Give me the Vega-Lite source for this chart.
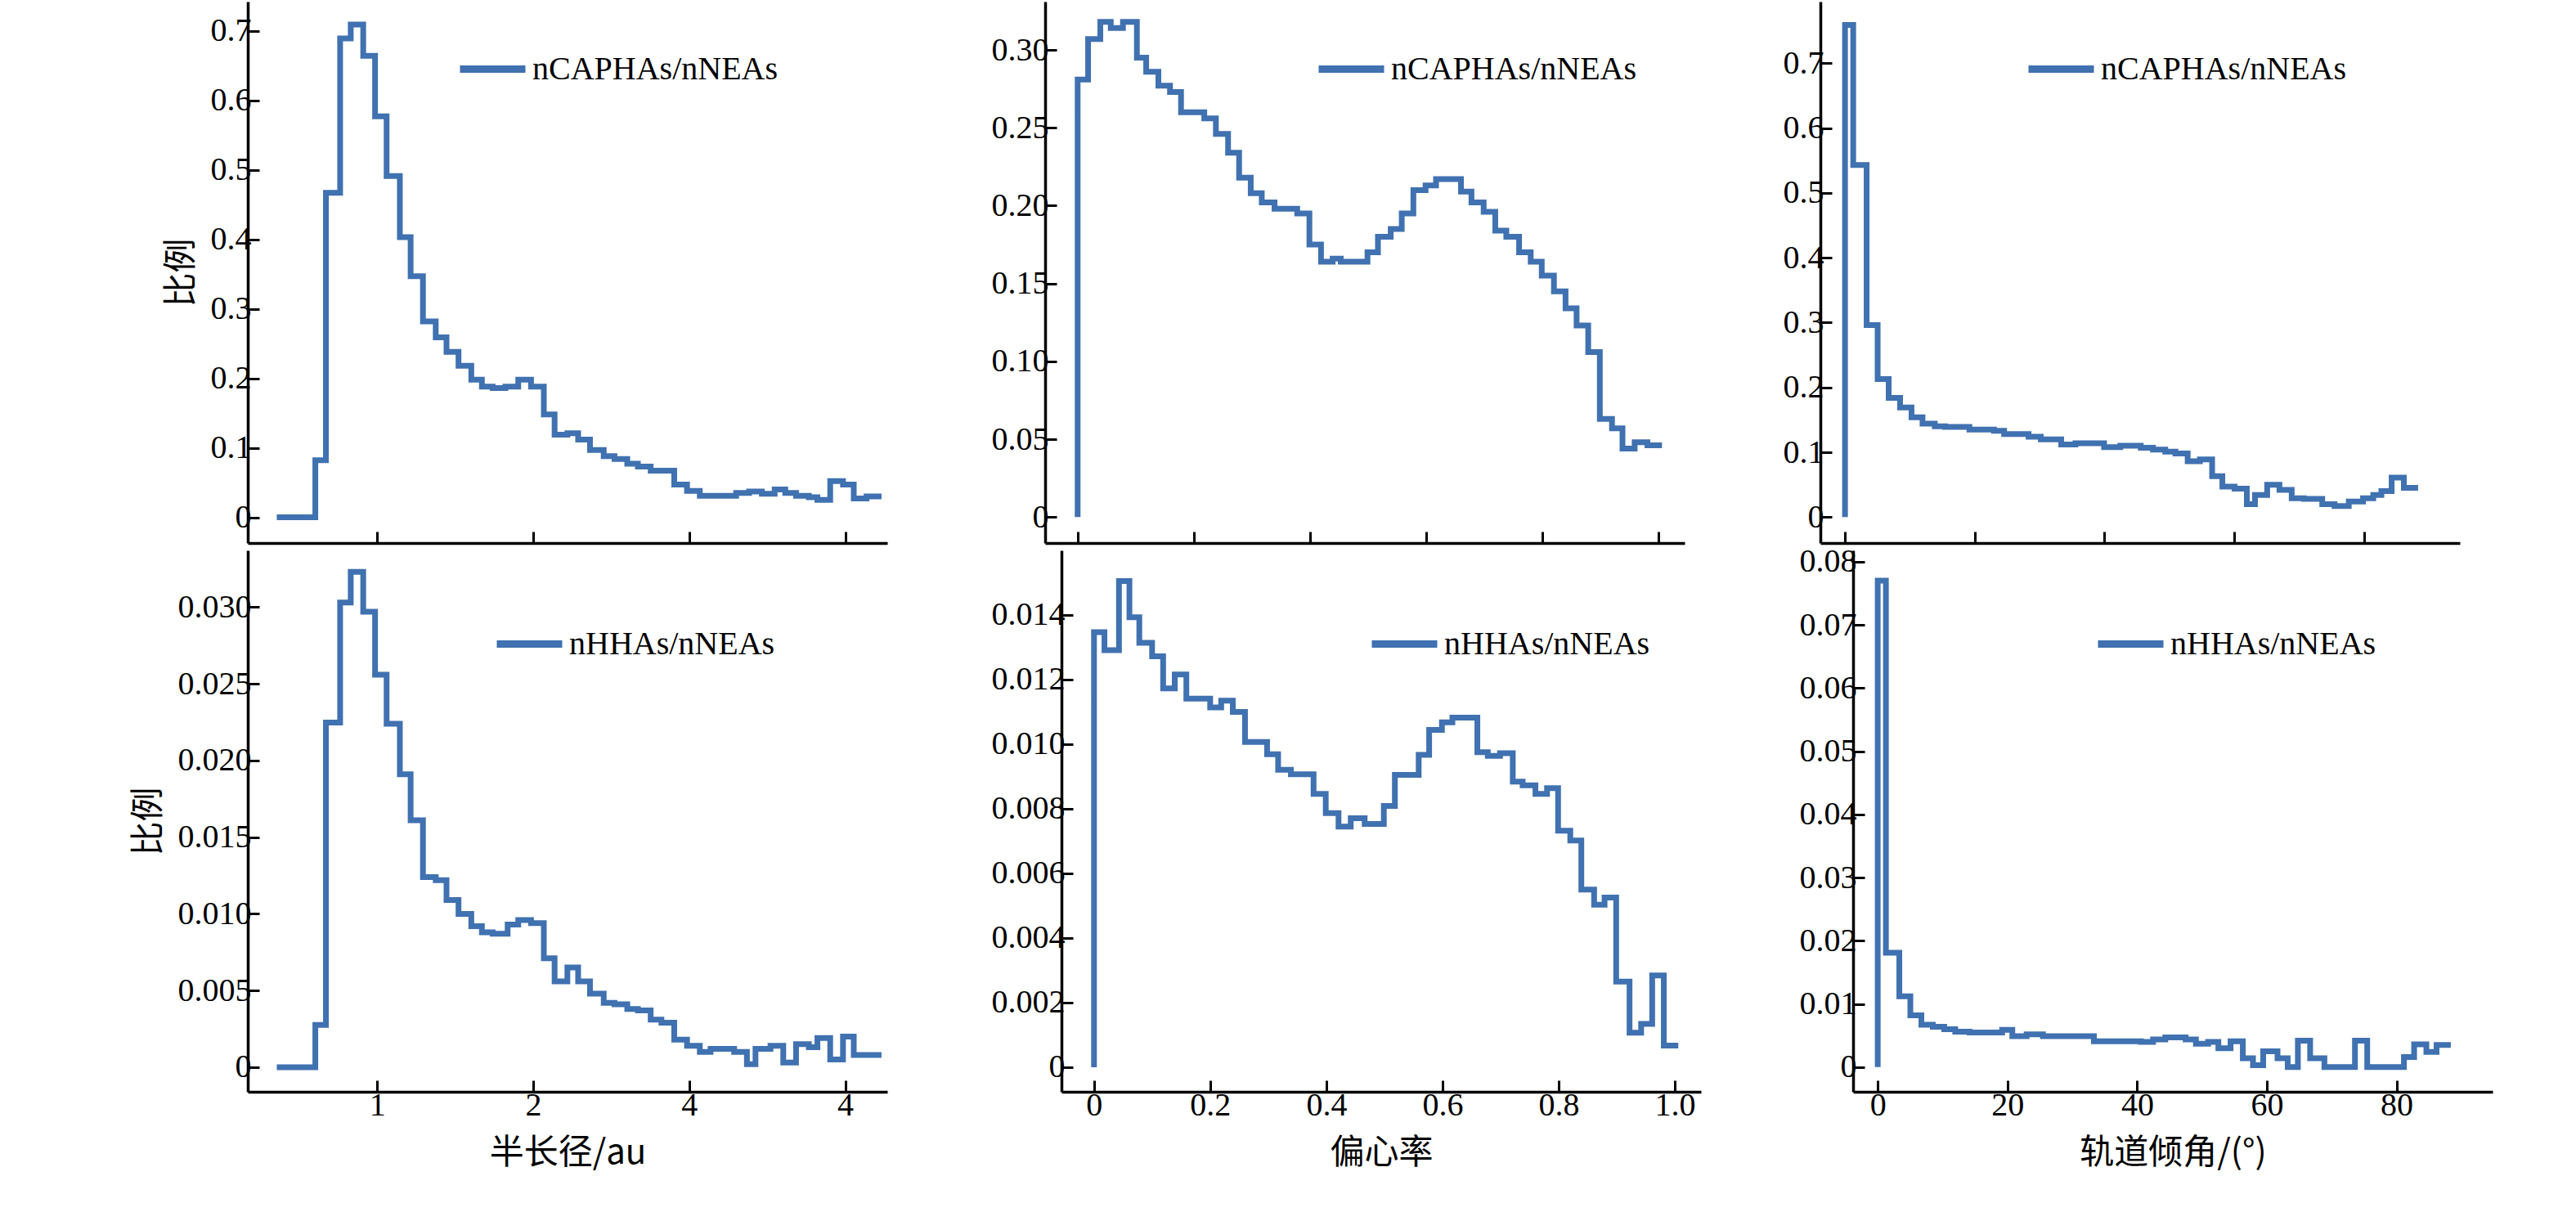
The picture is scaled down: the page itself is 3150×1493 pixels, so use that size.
{
  "$schema": "https://vega.github.io/schema/vega-lite/v6.json",
  "background": "white",
  "padding": {"left": 160, "top": 2, "right": 10, "bottom": 10},
  "config": {
    "font": "Liberation Serif",
    "view": {"stroke": null},
    "axis": {"grid": false, "domainColor": "black", "domainWidth": 3.5, "tickColor": "black", "tickWidth": 3, "tickSize": -14,
      "labelFont": "Liberation Serif", "labelFontSize": 40, "labelColor": "black", "labelPadding": 10,
      "titleFont": "Noto Sans CJK SC", "titleFontSize": 42, "titleFontWeight": "normal", "titleColor": "black"},
    "axisX": {"labelFont": "Liberation Serif", "titlePadding": 18},
    "axisY": {"labelFont": "Liberation Serif"},
    "legend": {"orient": "none", "title": null, "symbolType": "stroke", "symbolStrokeWidth": 9, "symbolSize": 6400,
      "labelFont": "Liberation Serif", "labelFontSize": 40, "labelColor": "black", "labelLimit": 600}
  },
  "datasets": {
    "a1": [
      {"x":0.356,"y":0},{"x":0.603,"y":0.082},{"x":0.671,"y":0.467},{"x":0.762,"y":0.689},{"x":0.830,"y":0.709},{"x":0.910,"y":0.664},{"x":0.986,"y":0.577},{"x":1.060,"y":0.491},{"x":1.145,"y":0.403},{"x":1.214,"y":0.347},{"x":1.293,"y":0.282},{"x":1.375,"y":0.259},{"x":1.444,"y":0.238},{"x":1.521,"y":0.218},{"x":1.603,"y":0.198},{"x":1.671,"y":0.188},{"x":1.740,"y":0.186},{"x":1.822,"y":0.188},{"x":1.904,"y":0.198},{"x":1.986,"y":0.188},{"x":2.068,"y":0.148},{"x":2.137,"y":0.119},{"x":2.219,"y":0.121},{"x":2.288,"y":0.112},{"x":2.364,"y":0.097},{"x":2.452,"y":0.088},{"x":2.521,"y":0.084},{"x":2.603,"y":0.077},{"x":2.671,"y":0.073},{"x":2.753,"y":0.067},{"x":2.822,"y":0.067},{"x":2.904,"y":0.047},{"x":2.986,"y":0.038},{"x":3.068,"y":0.031},{"x":3.301,"y":0.035},{"x":3.384,"y":0.037},{"x":3.466,"y":0.034},{"x":3.548,"y":0.040},{"x":3.616,"y":0.035},{"x":3.685,"y":0.031},{"x":3.767,"y":0.029},{"x":3.822,"y":0.025},{"x":3.904,"y":0.052},{"x":3.986,"y":0.047},{"x":4.055,"y":0.027},{"x":4.137,"y":0.030},{"x":4.233,"y":0.030}
    ],
    "e1": [
      {"x":0,"y":0},{"x":0,"y":0.281},{"x":0.018,"y":0.307},{"x":0.039,"y":0.318},{"x":0.057,"y":0.314},{"x":0.078,"y":0.318},{"x":0.102,"y":0.295},{"x":0.118,"y":0.286},{"x":0.139,"y":0.277},{"x":0.159,"y":0.273},{"x":0.178,"y":0.260},{"x":0.218,"y":0.256},{"x":0.238,"y":0.246},{"x":0.259,"y":0.234},{"x":0.278,"y":0.218},{"x":0.298,"y":0.208},{"x":0.317,"y":0.202},{"x":0.339,"y":0.198},{"x":0.378,"y":0.195},{"x":0.399,"y":0.175},{"x":0.419,"y":0.164},{"x":0.439,"y":0.166},{"x":0.453,"y":0.164},{"x":0.499,"y":0.170},{"x":0.517,"y":0.180},{"x":0.539,"y":0.185},{"x":0.558,"y":0.195},{"x":0.578,"y":0.210},{"x":0.599,"y":0.213},{"x":0.617,"y":0.217},{"x":0.660,"y":0.209},{"x":0.678,"y":0.202},{"x":0.699,"y":0.196},{"x":0.719,"y":0.184},{"x":0.738,"y":0.180},{"x":0.760,"y":0.170},{"x":0.780,"y":0.164},{"x":0.799,"y":0.155},{"x":0.820,"y":0.145},{"x":0.840,"y":0.134},{"x":0.859,"y":0.123},{"x":0.879,"y":0.106},{"x":0.899,"y":0.063},{"x":0.920,"y":0.057},{"x":0.938,"y":0.044},{"x":0.959,"y":0.048},{"x":0.981,"y":0.046},{"x":1.006,"y":0.046}
    ],
    "i1": [
      {"x":0,"y":0},{"x":0,"y":0.759},{"x":1.26,"y":0.543},{"x":3.33,"y":0.296},{"x":5.03,"y":0.213},{"x":6.73,"y":0.184},{"x":8.49,"y":0.169},{"x":10.25,"y":0.154},{"x":11.95,"y":0.144},{"x":13.84,"y":0.140},{"x":15.41,"y":0.139},{"x":19.18,"y":0.135},{"x":22.96,"y":0.133},{"x":24.53,"y":0.128},{"x":28.30,"y":0.124},{"x":30.19,"y":0.120},{"x":33.33,"y":0.112},{"x":35.53,"y":0.114},{"x":39.94,"y":0.108},{"x":42.45,"y":0.110},{"x":45.60,"y":0.107},{"x":47.48,"y":0.104},{"x":49.37,"y":0.101},{"x":50.94,"y":0.098},{"x":52.83,"y":0.086},{"x":54.72,"y":0.089},{"x":56.60,"y":0.063},{"x":58.18,"y":0.047},{"x":60.06,"y":0.044},{"x":61.95,"y":0.020},{"x":63.21,"y":0.034},{"x":65.09,"y":0.050},{"x":66.98,"y":0.042},{"x":68.87,"y":0.029},{"x":70.75,"y":0.028},{"x":73.58,"y":0.020},{"x":75.47,"y":0.017},{"x":77.67,"y":0.024},{"x":79.87,"y":0.029},{"x":81.45,"y":0.034},{"x":82.70,"y":0.040},{"x":84.28,"y":0.061},{"x":86.16,"y":0.045},{"x":88.36,"y":0.045}
    ],
    "a2": [
      {"x":0.356,"y":0},{"x":0.603,"y":0.00276},{"x":0.671,"y":0.02247},{"x":0.762,"y":0.0303},{"x":0.830,"y":0.0323},{"x":0.910,"y":0.0297},{"x":0.986,"y":0.0256},{"x":1.060,"y":0.0224},{"x":1.145,"y":0.0191},{"x":1.214,"y":0.0161},{"x":1.293,"y":0.0124},{"x":1.375,"y":0.0122},{"x":1.444,"y":0.0109},{"x":1.521,"y":0.0100},{"x":1.603,"y":0.0092},{"x":1.671,"y":0.0088},{"x":1.740,"y":0.0087},{"x":1.836,"y":0.0093},{"x":1.904,"y":0.0096},{"x":1.986,"y":0.0094},{"x":2.068,"y":0.0071},{"x":2.137,"y":0.0056},{"x":2.219,"y":0.0065},{"x":2.288,"y":0.0056},{"x":2.364,"y":0.0048},{"x":2.452,"y":0.0042},{"x":2.521,"y":0.0041},{"x":2.603,"y":0.0038},{"x":2.671,"y":0.0037},{"x":2.753,"y":0.0031},{"x":2.822,"y":0.0029},{"x":2.904,"y":0.0018},{"x":2.986,"y":0.0014},{"x":3.068,"y":0.0010},{"x":3.137,"y":0.0012},{"x":3.288,"y":0.0010},{"x":3.370,"y":0.0002},{"x":3.425,"y":0.0012},{"x":3.521,"y":0.0014},{"x":3.603,"y":0.0003},{"x":3.685,"y":0.0015},{"x":3.767,"y":0.0013},{"x":3.822,"y":0.0019},{"x":3.904,"y":0.0005},{"x":3.986,"y":0.0020},{"x":4.055,"y":0.0008},{"x":4.233,"y":0.0008}
    ],
    "e2": [
      {"x":0,"y":0},{"x":0,"y":0.01347},{"x":0.018,"y":0.01291},{"x":0.043,"y":0.01505},{"x":0.061,"y":0.01393},{"x":0.078,"y":0.01314},{"x":0.100,"y":0.01272},{"x":0.119,"y":0.01173},{"x":0.139,"y":0.01216},{"x":0.159,"y":0.01141},{"x":0.200,"y":0.01114},{"x":0.219,"y":0.01135},{"x":0.239,"y":0.01100},{"x":0.260,"y":0.01007},{"x":0.298,"y":0.00969},{"x":0.317,"y":0.00921},{"x":0.339,"y":0.00907},{"x":0.378,"y":0.00846},{"x":0.399,"y":0.00787},{"x":0.421,"y":0.00745},{"x":0.442,"y":0.00771},{"x":0.466,"y":0.00753},{"x":0.499,"y":0.00809},{"x":0.518,"y":0.00905},{"x":0.559,"y":0.00967},{"x":0.577,"y":0.01044},{"x":0.599,"y":0.01068},{"x":0.617,"y":0.01082},{"x":0.660,"y":0.00975},{"x":0.678,"y":0.00964},{"x":0.699,"y":0.00972},{"x":0.721,"y":0.00884},{"x":0.738,"y":0.00873},{"x":0.760,"y":0.00846},{"x":0.780,"y":0.00864},{"x":0.799,"y":0.00732},{"x":0.820,"y":0.00702},{"x":0.839,"y":0.00550},{"x":0.861,"y":0.00503},{"x":0.879,"y":0.00525},{"x":0.899,"y":0.00265},{"x":0.922,"y":0.00107},{"x":0.942,"y":0.00134},{"x":0.961,"y":0.00284},{"x":0.981,"y":0.00067},{"x":1.006,"y":0.00067}
    ],
    "i2": [
      {"x":0,"y":0},{"x":0,"y":0.077},{"x":1.26,"y":0.0181},{"x":3.33,"y":0.0112},{"x":5.03,"y":0.0082},{"x":6.73,"y":0.0067},{"x":8.49,"y":0.0064},{"x":10.25,"y":0.0060},{"x":11.95,"y":0.0056},{"x":14.15,"y":0.0055},{"x":19.18,"y":0.0059},{"x":20.75,"y":0.0049},{"x":22.96,"y":0.0052},{"x":25.47,"y":0.0049},{"x":33.33,"y":0.0041},{"x":40.57,"y":0.0040},{"x":42.45,"y":0.0044},{"x":44.34,"y":0.0047},{"x":47.48,"y":0.0044},{"x":49.06,"y":0.0037},{"x":50.94,"y":0.0040},{"x":52.52,"y":0.0030},{"x":54.40,"y":0.0041},{"x":56.29,"y":0.0014},{"x":57.86,"y":0.0003},{"x":59.43,"y":0.0025},{"x":61.64,"y":0.0014},{"x":63.21,"y":0},{"x":64.78,"y":0.0042},{"x":66.67,"y":0.0014},{"x":68.87,"y":0},{"x":73.58,"y":0.0042},{"x":75.47,"y":0},{"x":81.13,"y":0.0016},{"x":82.70,"y":0.0036},{"x":84.59,"y":0.0024},{"x":86.16,"y":0.0035},{"x":88.36,"y":0.0035}
    ]
  },
  "resolve": {"scale": {"color": "independent"}, "legend": {"color": "independent"}},
  "spacing": 0,
  "vconcat": [
    {
      "resolve": {"scale": {"color": "independent"}, "legend": {"color": "independent"}},
      "spacing": 120,
      "hconcat": [
        {
          "width": 782, "height": 662, "data": {"name": "a1"},
          "mark": {"type": "line", "interpolate": "step-after", "strokeWidth": 7},
          "encoding": {
            "x": {"field": "x", "type": "quantitative", "scale": {"domain": [0.17, 4.27], "nice": false, "zero": false}, "axis": {"values": [1, 2, 3, 4], "labels": false, "title": null}},
            "y": {"field": "y", "type": "quantitative", "scale": {"domain": [-0.037, 0.742], "nice": false}, "axis": {"values": [0, 0.1, 0.2, 0.3, 0.4, 0.5, 0.6, 0.7], "labelExpr": "datum.value == 0 ? '0' : format(datum.value, '.1f')", "title": "比例", "titlePadding": 14}},
            "color": {"datum": "nCAPHAs/nNEAs", "scale": {"range": ["#4071b0"]}, "legend": {"legendX": 255, "legendY": 38}}
          }
        },
        {
          "width": 782, "height": 662, "data": {"name": "e1"},
          "mark": {"type": "line", "interpolate": "step-after", "strokeWidth": 7},
          "encoding": {
            "x": {"field": "x", "type": "quantitative", "scale": {"domain": [-0.056, 1.045], "nice": false, "zero": false}, "axis": {"values": [0, 0.2, 0.4, 0.6, 0.8, 1.0], "labels": false, "title": null}},
            "y": {"field": "y", "type": "quantitative", "scale": {"domain": [-0.0167, 0.331], "nice": false}, "axis": {"values": [0, 0.05, 0.1, 0.15, 0.2, 0.25, 0.3], "labelExpr": "datum.value == 0 ? '0' : format(datum.value, '.2f')", "title": null}},
            "color": {"datum": "nCAPHAs/nNEAs", "scale": {"range": ["#4071b0"]}, "legend": {"legendX": 330, "legendY": 38}}
          }
        },
        {
          "width": 782, "height": 662, "data": {"name": "i1"},
          "mark": {"type": "line", "interpolate": "step-after", "strokeWidth": 7},
          "encoding": {
            "x": {"field": "x", "type": "quantitative", "scale": {"domain": [-3.8, 94.8], "nice": false, "zero": false}, "axis": {"values": [0, 20, 40, 60, 80], "labels": false, "title": null}},
            "y": {"field": "y", "type": "quantitative", "scale": {"domain": [-0.04, 0.795], "nice": false}, "axis": {"values": [0, 0.1, 0.2, 0.3, 0.4, 0.5, 0.6, 0.7], "labelExpr": "datum.value == 0 ? '0' : format(datum.value, '.1f')", "title": null}},
            "color": {"datum": "nCAPHAs/nNEAs", "scale": {"range": ["#4071b0"]}, "legend": {"legendX": 250, "legendY": 38}}
          }
        }
      ]
    },
    {
      "resolve": {"scale": {"color": "independent"}, "legend": {"color": "independent"}},
      "spacing": 120,
      "hconcat": [
        {
          "width": 782, "height": 662, "data": {"name": "a2"},
          "mark": {"type": "line", "interpolate": "step-after", "strokeWidth": 7},
          "encoding": {
            "x": {"field": "x", "type": "quantitative", "scale": {"domain": [0.17, 4.27], "nice": false, "zero": false}, "axis": {"values": [1, 2, 3, 4], "labelExpr": "datum.value == 3 ? '4' : format(datum.value, 'd')", "title": "半长径/au"}},
            "y": {"field": "y", "type": "quantitative", "scale": {"domain": [-0.0016, 0.0337], "nice": false}, "axis": {"values": [0, 0.005, 0.01, 0.015, 0.02, 0.025, 0.03], "labelExpr": "datum.value == 0 ? '0' : format(datum.value, '.3f')", "title": "比例", "titlePadding": 14}},
            "color": {"datum": "nHHAs/nNEAs", "scale": {"range": ["#4071b0"]}, "legend": {"legendX": 300, "legendY": 70}}
          }
        },
        {
          "width": 782, "height": 662, "data": {"name": "e2"},
          "mark": {"type": "line", "interpolate": "step-after", "strokeWidth": 7},
          "encoding": {
            "x": {"field": "x", "type": "quantitative", "scale": {"domain": [-0.056, 1.045], "nice": false, "zero": false}, "axis": {"values": [0, 0.2, 0.4, 0.6, 0.8, 1.0], "labelExpr": "datum.value == 0 ? '0' : format(datum.value, '.1f')", "title": "偏心率"}},
            "y": {"field": "y", "type": "quantitative", "scale": {"domain": [-0.00076, 0.016], "nice": false}, "axis": {"values": [0, 0.002, 0.004, 0.006, 0.008, 0.01, 0.012, 0.014], "labelExpr": "datum.value == 0 ? '0' : format(datum.value, '.3f')", "title": null}},
            "color": {"datum": "nHHAs/nNEAs", "scale": {"range": ["#4071b0"]}, "legend": {"legendX": 375, "legendY": 70}}
          }
        },
        {
          "width": 782, "height": 662, "data": {"name": "i2"},
          "mark": {"type": "line", "interpolate": "step-after", "strokeWidth": 7},
          "encoding": {
            "x": {"field": "x", "type": "quantitative", "scale": {"domain": [-3.8, 94.8], "nice": false, "zero": false}, "axis": {"values": [0, 20, 40, 60, 80], "title": "轨道倾角/(°)"}},
            "y": {"field": "y", "type": "quantitative", "scale": {"domain": [-0.0039, 0.0818], "nice": false}, "axis": {"values": [0, 0.01, 0.02, 0.03, 0.04, 0.05, 0.06, 0.07, 0.08], "labelExpr": "datum.value == 0 ? '0' : format(datum.value, '.2f')", "title": null}},
            "color": {"datum": "nHHAs/nNEAs", "scale": {"range": ["#4071b0"]}, "legend": {"legendX": 295, "legendY": 70}}
          }
        }
      ]
    }
  ]
}
